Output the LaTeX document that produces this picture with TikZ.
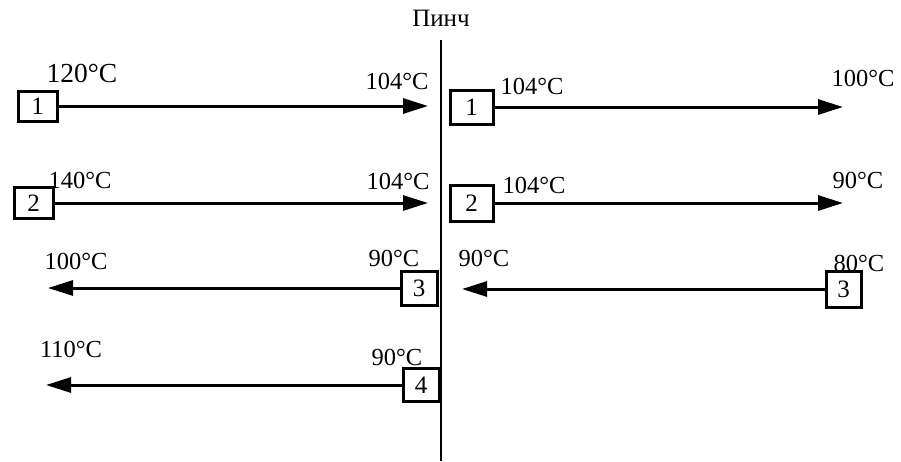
\documentclass[tikz,border=0pt]{standalone}
\usepackage{fontspec}
\setmainfont{Liberation Serif}
\usetikzlibrary{arrows.meta}
\begin{document}
\begin{tikzpicture}[x=1pt,y=-1pt,
  numbox/.style={draw,line width=3pt,inner sep=0pt,minimum width=38pt,minimum height=32pt,
                 font=\fontsize{25}{27}\selectfont},
  temp/.style={inner sep=0pt,font=\fontsize{24.5}{26}\selectfont},
  stream/.style={line width=3pt,-{Triangle[length=25pt,width=15pt]}}]
  \useasboundingbox (0,0) rectangle (901,461);

  % pinch line
  \node[inner sep=0pt,font=\fontsize{25}{27}\selectfont] (pinch) at (441,18) {Пинч};
  \coordinate (ptop) at (441,40);
  \coordinate (pbot) at (441,461);
  \draw[line width=2.8pt] (ptop) -- (pbot);

  % boxes
  \node[numbox,minimum width=39pt,minimum height=30pt] (l1) at (37.5,106) {1};
  \node[numbox,minimum width=39pt,minimum height=31pt] (l2) at (33.5,203) {2};
  \node[numbox,minimum width=43pt,minimum height=34pt] (r1) at (471.5,107) {1};
  \node[numbox,minimum width=43pt,minimum height=36pt] (r2) at (471.5,203) {2};
  \node[numbox,minimum width=36pt,minimum height=34pt] (l3) at (419,288) {3};
  \node[numbox,minimum width=35pt,minimum height=36pt] (r3) at (843.5,289) {3};
  \node[numbox,minimum width=36pt,minimum height=33pt] (l4) at (421,385) {4};

  % arrow tips
  \coordinate (t1) at (428,106);
  \coordinate (t2) at (428,203);
  \coordinate (u1) at (843,107);
  \coordinate (u2) at (843,203);
  \coordinate (t3) at (48,288);
  \coordinate (u3) at (462,289);
  \coordinate (t4) at (46,385);

  % streams
  \draw[stream] (l1.east) -- (t1);
  \draw[stream] (l2.east) -- (t2);
  \draw[stream] (r1.east) -- (u1);
  \draw[stream] (r2.east) -- (u2);
  \draw[stream] (l3.west) -- (t3);
  \draw[stream] (r3.west) -- (u3);
  \draw[stream] (l4.west) -- (t4);

  % temperatures
  \node[temp,font=\fontsize{27.5}{29}\selectfont] (a1) at (82,73) {120°C};
  \node[temp] (b1) at (397,81) {104°C};
  \node[temp] (a2) at (80,180) {140°C};
  \node[temp] (b2) at (398,181) {104°C};
  \node[temp] (c1) at (532,86) {104°C};
  \node[temp] (d1) at (863,78) {100°C};
  \node[temp] (c2) at (534,185) {104°C};
  \node[temp] (d2) at (858,180) {90°C};
  \node[temp] (a3) at (76,261) {100°C};
  \node[temp] (b3) at (394,258) {90°C};
  \node[temp] (c3) at (484,258) {90°C};
  \node[temp] (d3) at (859,263) {80°C};
  \node[temp] (a4) at (71,349) {110°C};
  \node[temp] (b4) at (397,357) {90°C};
\end{tikzpicture}
\end{document}
